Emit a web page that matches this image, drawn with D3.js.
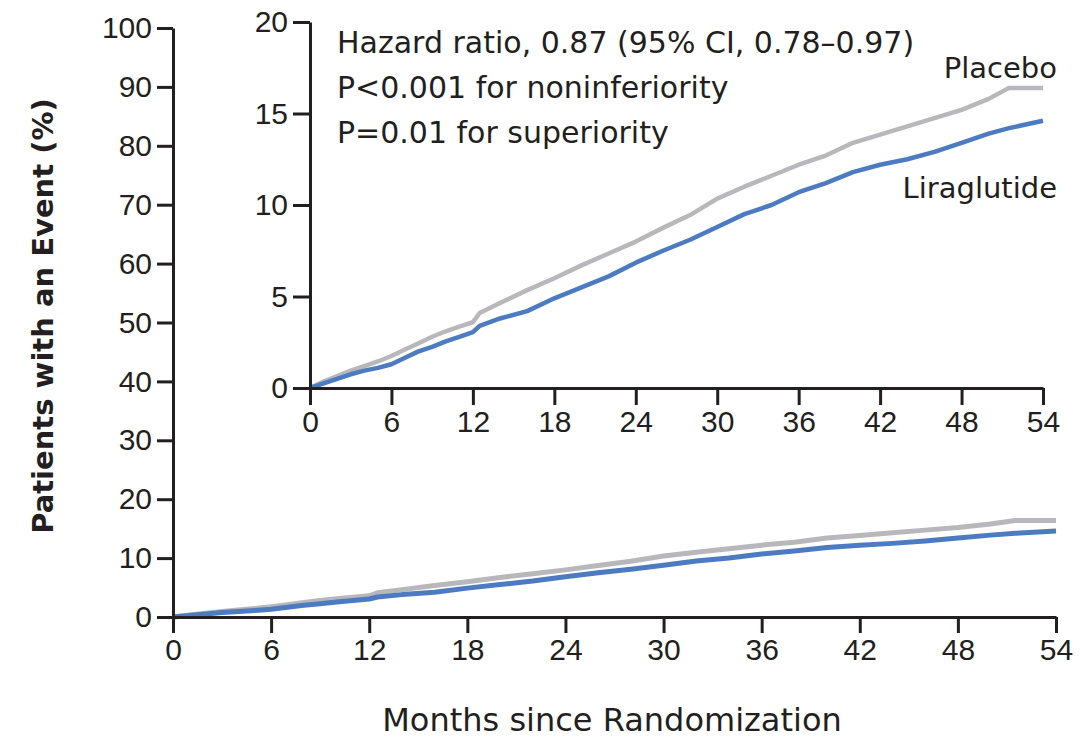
<!DOCTYPE html>
<meta charset="utf-8">
<head>
    <script type="text/javascript" src="https://cdn.jsdelivr.net/npm/d3@7/dist/d3.min.js"></script>
    <style>
        body { margin: 0; background: white; }
        text { font-family: "DejaVu Sans", "Liberation Sans", sans-serif; fill: #231f20; }
        .axis path, .axis line { stroke: #231f20; stroke-width: 3; }
        .axis text { font-family: "Liberation Sans", sans-serif; font-size: 30px; fill: #231f20; }
        .curve { fill: none; stroke-linejoin: round; }
    </style>
    <title>Cumulative incidence</title>
</head>
<body>
<div id="chart"></div>
<script>
    var w = 1091;
    var h = 739;

    // months since randomization
    var months = [0, 1, 2, 3, 4, 5, 6, 7, 8, 9, 10, 11, 12, 12.5, 14, 16, 18, 20, 22, 24,
                  26, 28, 30, 32, 34, 36, 38, 40, 42, 44, 46, 48, 50, 51.5, 54];
    // cumulative % with an event
    var placebo = [0, 0.35, 0.65, 0.95, 1.2, 1.45, 1.75, 2.1, 2.45, 2.8, 3.1, 3.35, 3.6, 4.1, 4.65, 5.35, 6.0, 6.7, 7.35, 8.0,
                   8.75, 9.45, 10.35, 11.0, 11.6, 12.2, 12.7, 13.4, 13.85, 14.3, 14.75, 15.2, 15.8, 16.4, 16.4];
    var liraglutide = [0, 0.25, 0.5, 0.75, 0.95, 1.1, 1.3, 1.65, 2.0, 2.25, 2.55, 2.8, 3.05, 3.4, 3.8, 4.2, 4.9, 5.5, 6.1, 6.85,
                       7.5, 8.1, 8.8, 9.5, 10.0, 10.7, 11.2, 11.8, 12.2, 12.5, 12.9, 13.4, 13.9, 14.2, 14.6];

    var xTicks = [0, 6, 12, 18, 24, 30, 36, 42, 48, 54];
    var mainYTicks = [0, 10, 20, 30, 40, 50, 60, 70, 80, 90, 100];
    var insetYTicks = [0, 5, 10, 15, 20];
    var statLines = ["Hazard ratio, 0.87 (95% CI, 0.78\u20130.97)",
                     "P<0.001 for noninferiority",
                     "P=0.01 for superiority"];

    var GRAY = "#b8b8bc";
    var BLUE = "#4c7bc2";

    var svg = d3.select("#chart")
                .append("svg")
                .attr("width", w)
                .attr("height", h)
                .style("background", "white");

    var placeboData = months.map((m, i) => [m, placebo[i]]);
    var liraData = months.map((m, i) => [m, liraglutide[i]]);

    // main panel
    var x = d3.scaleLinear().domain([0, 54]).range([173, 1056]);
    var y = d3.scaleLinear().domain([0, 100]).range([617, 28]);

    var mainLine = d3.line().x(d => x(d[0])).y(d => y(d[1]));

    svg.append("path").datum(placeboData).attr("class", "curve")
        .attr("stroke", GRAY).attr("stroke-width", 5).attr("d", mainLine);
    svg.append("path").datum(liraData).attr("class", "curve")
        .attr("stroke", BLUE).attr("stroke-width", 5).attr("d", mainLine);

    svg.append("g").attr("class", "axis")
        .attr("transform", "translate(0,617)")
        .call(d3.axisBottom(x).tickValues(xTicks).tickSize(16).tickSizeOuter(0).tickPadding(6));
    svg.append("g").attr("class", "axis")
        .attr("transform", "translate(173,0)")
        .call(d3.axisLeft(y).tickValues(mainYTicks).tickSize(16).tickSizeOuter(0).tickPadding(5));

    svg.append("text")
        .attr("transform", "translate(53," + 316 + ") rotate(-90)")
        .attr("text-anchor", "middle")
        .style("font-size", "29px")
        .style("font-weight", "bold")
        .text("Patients with an Event (%)");

    svg.append("text")
        .attr("x", 612).attr("y", 731)
        .attr("text-anchor", "middle")
        .style("font-size", "32px")
        .text("Months since Randomization");

    // inset panel
    var xi = d3.scaleLinear().domain([0, 54]).range([310, 1043]);
    var yi = d3.scaleLinear().domain([0, 20]).range([388, 22]);

    var insetLine = d3.line().x(d => xi(d[0])).y(d => yi(d[1]));

    svg.append("path").datum(placeboData).attr("class", "curve")
        .attr("stroke", GRAY).attr("stroke-width", 4.5).attr("d", insetLine);
    svg.append("path").datum(liraData).attr("class", "curve")
        .attr("stroke", BLUE).attr("stroke-width", 4.5).attr("d", insetLine);

    svg.append("g").attr("class", "axis")
        .attr("transform", "translate(0,388)")
        .call(d3.axisBottom(xi).tickValues(xTicks).tickSize(17).tickSizeOuter(0).tickPadding(6));
    svg.append("g").attr("class", "axis")
        .attr("transform", "translate(310,0)")
        .call(d3.axisLeft(yi).tickValues(insetYTicks).tickSize(17).tickSizeOuter(0).tickPadding(5));

    svg.append("g")
        .selectAll("text")
        .data(statLines)
        .enter()
        .append("text")
        .attr("x", 337)
        .attr("y", (d, i) => 53 + i * 45)
        .style("font-size", "30px")
        .text(d => d);

    svg.append("text")
        .attr("x", 1057).attr("y", 78)
        .attr("text-anchor", "end")
        .style("font-size", "29px")
        .text("Placebo");
    svg.append("text")
        .attr("x", 1057).attr("y", 198)
        .attr("text-anchor", "end")
        .style("font-size", "29px")
        .text("Liraglutide");
</script>
</body>
</html>
